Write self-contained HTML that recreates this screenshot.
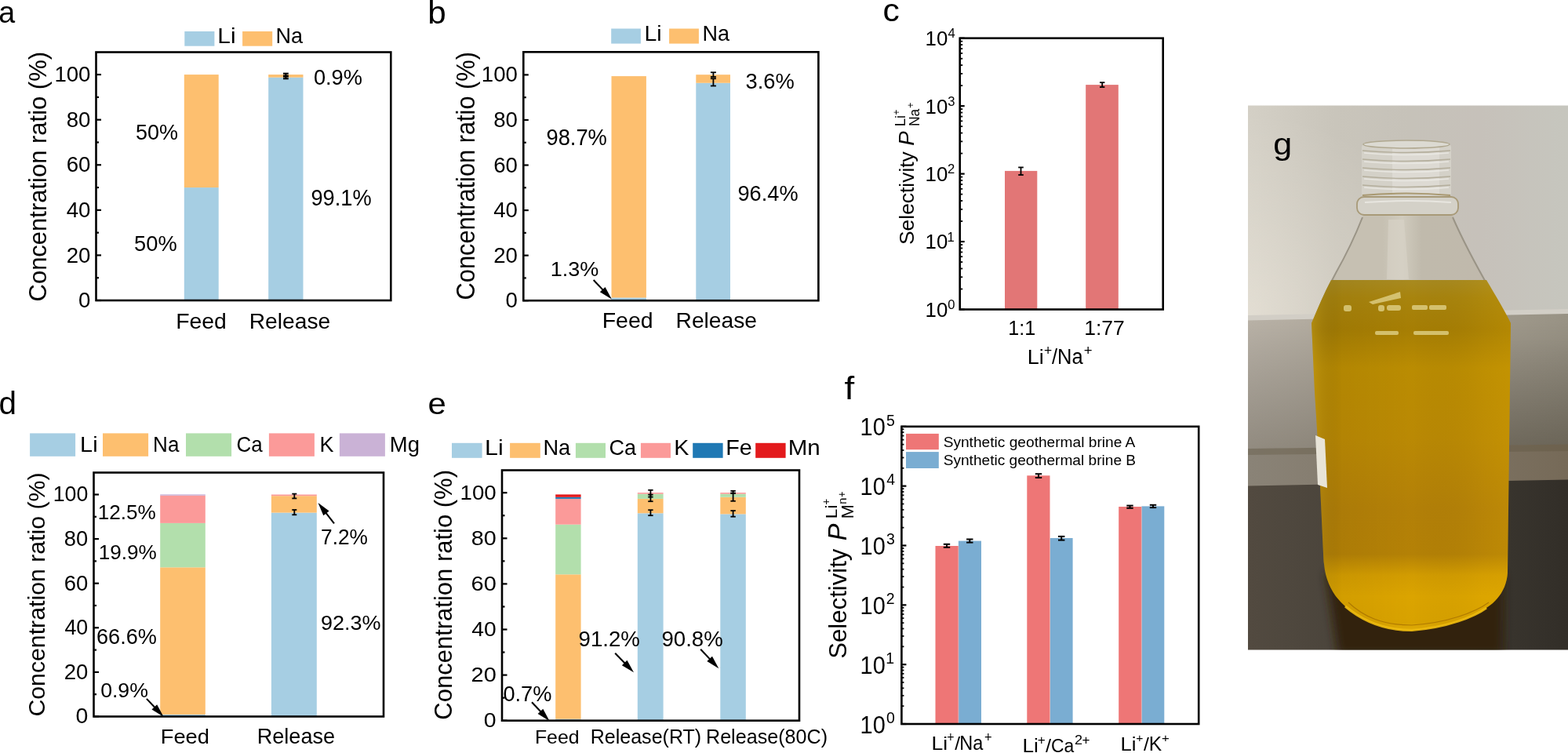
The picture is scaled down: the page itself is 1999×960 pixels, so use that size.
<!DOCTYPE html>
<html><head><meta charset="utf-8"><title>Figure</title>
<style>html,body{margin:0;padding:0;background:#fff;}svg{display:block;}
text{font-family:"Liberation Sans",Arial,sans-serif;}</style></head>
<body><svg width="1999" height="960" viewBox="0 0 1999 960">
<rect width="1999" height="960" fill="#fff"/>
<text transform="translate(-1.69 29.21) scale(0.9542 1)" font-size="39.45" fill="#000">a</text>
<text transform="translate(545.26 29.5) scale(1.0592 1)" font-size="39.86" fill="#000">b</text>
<text transform="translate(1125.38 27.3) scale(1.0688 1)" font-size="39.82" fill="#000">c</text>
<text transform="translate(-1.62 528.1) scale(1.0111 1)" font-size="40.00" fill="#000">d</text>
<text transform="translate(545.41 528.11) scale(1.0678 1)" font-size="39.27" fill="#000">e</text>
<text transform="translate(1076.42 508.8) scale(1.1455 1)" font-size="39.86" fill="#000">f</text>
<rect x="234.8" y="239.05" width="43.9" height="143.95" fill="#A6CEE3" />
<rect x="234.8" y="95.1" width="43.9" height="143.95" fill="#FDBF6F" />
<rect x="342.2" y="98.7" width="44.3" height="284.3" fill="#A6CEE3" />
<rect x="342.2" y="95.1" width="44.3" height="3.6" fill="#FDBF6F" />
<line x1="364.4" y1="93.7" x2="364.4" y2="97.6" stroke="#000" stroke-width="2" stroke-linecap="butt"/>
<line x1="361" y1="93.7" x2="367.8" y2="93.7" stroke="#000" stroke-width="2" stroke-linecap="butt"/>
<line x1="361" y1="97.6" x2="367.8" y2="97.6" stroke="#000" stroke-width="2" stroke-linecap="butt"/>
<line x1="364.4" y1="96.6" x2="364.4" y2="100.3" stroke="#000" stroke-width="2" stroke-linecap="butt"/>
<line x1="361" y1="96.6" x2="367.8" y2="96.6" stroke="#000" stroke-width="2" stroke-linecap="butt"/>
<line x1="361" y1="100.3" x2="367.8" y2="100.3" stroke="#000" stroke-width="2" stroke-linecap="butt"/>
<rect x="122.5" y="66.5" width="375.8" height="316.5" fill="none" stroke="#000" stroke-width="2.6"/>
<line x1="122.5" y1="383" x2="129" y2="383" stroke="#000" stroke-width="2.2" stroke-linecap="butt"/>
<line x1="122.5" y1="325.42" x2="129" y2="325.42" stroke="#000" stroke-width="2.2" stroke-linecap="butt"/>
<line x1="122.5" y1="267.84" x2="129" y2="267.84" stroke="#000" stroke-width="2.2" stroke-linecap="butt"/>
<line x1="122.5" y1="210.26" x2="129" y2="210.26" stroke="#000" stroke-width="2.2" stroke-linecap="butt"/>
<line x1="122.5" y1="152.68" x2="129" y2="152.68" stroke="#000" stroke-width="2.2" stroke-linecap="butt"/>
<line x1="122.5" y1="95.1" x2="129" y2="95.1" stroke="#000" stroke-width="2.2" stroke-linecap="butt"/>
<line x1="122.5" y1="354.21" x2="126" y2="354.21" stroke="#000" stroke-width="2.2" stroke-linecap="butt"/>
<line x1="122.5" y1="296.63" x2="126" y2="296.63" stroke="#000" stroke-width="2.2" stroke-linecap="butt"/>
<line x1="122.5" y1="239.05" x2="126" y2="239.05" stroke="#000" stroke-width="2.2" stroke-linecap="butt"/>
<line x1="122.5" y1="181.47" x2="126" y2="181.47" stroke="#000" stroke-width="2.2" stroke-linecap="butt"/>
<line x1="122.5" y1="123.89" x2="126" y2="123.89" stroke="#000" stroke-width="2.2" stroke-linecap="butt"/>
<text x="100.04" y="392.1" font-size="27.60">0</text>
<text x="84.72" y="334.52" font-size="27.60">20</text>
<text x="84.72" y="276.94" font-size="27.60">40</text>
<text x="84.72" y="219.36" font-size="27.60">60</text>
<text x="84.72" y="161.78" font-size="27.60">80</text>
<text x="69.4" y="104.2" font-size="27.60">100</text>
<text transform="translate(59.36 384.45) rotate(-90) scale(0.9656 1)" font-size="32.09">Concentration ratio (%)</text>
<text transform="translate(224.13 419.03) scale(1.0590 1)" font-size="26.80" fill="#000">Feed</text>
<text transform="translate(317.74 419.03) scale(1.0525 1)" font-size="26.80" fill="#000">Release</text>
<text transform="translate(173.02 178.22) scale(0.9524 1)" font-size="28.31" fill="#000">50%</text>
<text transform="translate(171.11 320.32) scale(0.9829 1)" font-size="27.75" fill="#000">50%</text>
<text transform="translate(396.47 262.21) scale(0.9521 1)" font-size="28.59" fill="#000">99.1%</text>
<text transform="translate(399.91 108.22) scale(0.9564 1)" font-size="28.45" fill="#000">0.9%</text>
<rect x="235.3" y="40" width="38.1" height="18.7" fill="#A6CEE3" />
<rect x="309.1" y="40" width="38.1" height="18.7" fill="#FDBF6F" />
<text transform="translate(277.31 55.1) scale(1.0927 1)" font-size="27.31" fill="#000">Li</text>
<text transform="translate(351.54 55.01) scale(0.9460 1)" font-size="28.57" fill="#000">Na</text>
<rect x="779.5" y="379.46" width="44.4" height="3.74" fill="#A6CEE3" />
<rect x="779.5" y="97.1" width="44.4" height="282.36" fill="#FDBF6F" />
<rect x="887.3" y="105.76" width="43.7" height="277.44" fill="#A6CEE3" />
<rect x="887.3" y="95.2" width="43.7" height="10.56" fill="#FDBF6F" />
<line x1="909.4" y1="92.3" x2="909.4" y2="98" stroke="#000" stroke-width="1.8" stroke-linecap="butt"/>
<line x1="905.9" y1="92.3" x2="912.9" y2="92.3" stroke="#000" stroke-width="1.8" stroke-linecap="butt"/>
<line x1="905.9" y1="98" x2="912.9" y2="98" stroke="#000" stroke-width="1.8" stroke-linecap="butt"/>
<line x1="909.4" y1="100.2" x2="909.4" y2="109.5" stroke="#000" stroke-width="1.8" stroke-linecap="butt"/>
<line x1="905.9" y1="100.2" x2="912.9" y2="100.2" stroke="#000" stroke-width="1.8" stroke-linecap="butt"/>
<line x1="905.9" y1="109.5" x2="912.9" y2="109.5" stroke="#000" stroke-width="1.8" stroke-linecap="butt"/>
<rect x="667.3" y="66.3" width="376.1" height="316.9" fill="none" stroke="#000" stroke-width="2.6"/>
<line x1="667.3" y1="383.2" x2="673.8" y2="383.2" stroke="#000" stroke-width="2.2" stroke-linecap="butt"/>
<line x1="667.3" y1="325.64" x2="673.8" y2="325.64" stroke="#000" stroke-width="2.2" stroke-linecap="butt"/>
<line x1="667.3" y1="268.08" x2="673.8" y2="268.08" stroke="#000" stroke-width="2.2" stroke-linecap="butt"/>
<line x1="667.3" y1="210.52" x2="673.8" y2="210.52" stroke="#000" stroke-width="2.2" stroke-linecap="butt"/>
<line x1="667.3" y1="152.96" x2="673.8" y2="152.96" stroke="#000" stroke-width="2.2" stroke-linecap="butt"/>
<line x1="667.3" y1="95.4" x2="673.8" y2="95.4" stroke="#000" stroke-width="2.2" stroke-linecap="butt"/>
<line x1="667.3" y1="354.42" x2="670.8" y2="354.42" stroke="#000" stroke-width="2.2" stroke-linecap="butt"/>
<line x1="667.3" y1="296.86" x2="670.8" y2="296.86" stroke="#000" stroke-width="2.2" stroke-linecap="butt"/>
<line x1="667.3" y1="239.3" x2="670.8" y2="239.3" stroke="#000" stroke-width="2.2" stroke-linecap="butt"/>
<line x1="667.3" y1="181.74" x2="670.8" y2="181.74" stroke="#000" stroke-width="2.2" stroke-linecap="butt"/>
<line x1="667.3" y1="124.18" x2="670.8" y2="124.18" stroke="#000" stroke-width="2.2" stroke-linecap="butt"/>
<text x="644.49" y="392.2" font-size="27.60">0</text>
<text x="629.17" y="334.64" font-size="27.60">20</text>
<text x="629.17" y="277.08" font-size="27.60">40</text>
<text x="629.17" y="219.52" font-size="27.60">60</text>
<text x="629.17" y="161.96" font-size="27.60">80</text>
<text x="613.85" y="104.4" font-size="27.60">100</text>
<text transform="translate(604.6 382.44) rotate(-90) scale(0.9376 1)" font-size="32.83">Concentration ratio (%)</text>
<text transform="translate(767.72 417.73) scale(1.0466 1)" font-size="27.21" fill="#000">Feed</text>
<text transform="translate(861.54 417.73) scale(1.0367 1)" font-size="27.21" fill="#000">Release</text>
<text transform="translate(696.47 184.61) scale(0.9513 1)" font-size="28.73" fill="#000">98.7%</text>
<text transform="translate(940.48 255.52) scale(0.9700 1)" font-size="28.03" fill="#000">96.4%</text>
<text transform="translate(950.51 112.63) scale(0.9992 1)" font-size="27.32" fill="#000">3.6%</text>
<text transform="translate(701.77 352.24) scale(1.0271 1)" font-size="26.34" fill="#000">1.3%</text>
<line x1="756.7" y1="357" x2="769.59" y2="370.61" stroke="#000" stroke-width="2.1" stroke-linecap="butt"/>
<polygon points="779.9,381.5 764.87,372.32 771.55,365.99" fill="#000"/>
<rect x="779.2" y="36.5" width="37.7" height="19.1" fill="#A6CEE3" />
<rect x="853.1" y="36.5" width="37.8" height="19.1" fill="#FDBF6F" />
<text transform="translate(821.43 52) scale(1.0300 1)" font-size="27.59" fill="#000">Li</text>
<text transform="translate(895.54 51.91) scale(0.9460 1)" font-size="28.57" fill="#000">Na</text>
<rect x="1281" y="217.9" width="41.3" height="176.6" fill="#E27676" />
<rect x="1384.2" y="108.1" width="41.6" height="286.4" fill="#E27676" />
<line x1="1301.5" y1="213.4" x2="1301.5" y2="223" stroke="#000" stroke-width="1.8" stroke-linecap="butt"/>
<line x1="1298.2" y1="213.4" x2="1304.8" y2="213.4" stroke="#000" stroke-width="1.8" stroke-linecap="butt"/>
<line x1="1298.2" y1="223" x2="1304.8" y2="223" stroke="#000" stroke-width="1.8" stroke-linecap="butt"/>
<line x1="1405.2" y1="105.2" x2="1405.2" y2="111" stroke="#000" stroke-width="1.8" stroke-linecap="butt"/>
<line x1="1402" y1="105.2" x2="1408.4" y2="105.2" stroke="#000" stroke-width="1.8" stroke-linecap="butt"/>
<line x1="1402" y1="111" x2="1408.4" y2="111" stroke="#000" stroke-width="1.8" stroke-linecap="butt"/>
<rect x="1223.7" y="48.7" width="259" height="345.8" fill="none" stroke="#000" stroke-width="2.6"/>
<line x1="1223.7" y1="394.5" x2="1229.7" y2="394.5" stroke="#000" stroke-width="2.2" stroke-linecap="butt"/>
<line x1="1223.7" y1="368.48" x2="1227.2" y2="368.48" stroke="#000" stroke-width="1.8" stroke-linecap="butt"/>
<line x1="1223.7" y1="353.25" x2="1227.2" y2="353.25" stroke="#000" stroke-width="1.8" stroke-linecap="butt"/>
<line x1="1223.7" y1="342.45" x2="1227.2" y2="342.45" stroke="#000" stroke-width="1.8" stroke-linecap="butt"/>
<line x1="1223.7" y1="334.07" x2="1227.2" y2="334.07" stroke="#000" stroke-width="1.8" stroke-linecap="butt"/>
<line x1="1223.7" y1="327.23" x2="1227.2" y2="327.23" stroke="#000" stroke-width="1.8" stroke-linecap="butt"/>
<line x1="1223.7" y1="321.44" x2="1227.2" y2="321.44" stroke="#000" stroke-width="1.8" stroke-linecap="butt"/>
<line x1="1223.7" y1="316.43" x2="1227.2" y2="316.43" stroke="#000" stroke-width="1.8" stroke-linecap="butt"/>
<line x1="1223.7" y1="312.01" x2="1227.2" y2="312.01" stroke="#000" stroke-width="1.8" stroke-linecap="butt"/>
<line x1="1223.7" y1="308.05" x2="1229.7" y2="308.05" stroke="#000" stroke-width="2.2" stroke-linecap="butt"/>
<line x1="1223.7" y1="282.03" x2="1227.2" y2="282.03" stroke="#000" stroke-width="1.8" stroke-linecap="butt"/>
<line x1="1223.7" y1="266.8" x2="1227.2" y2="266.8" stroke="#000" stroke-width="1.8" stroke-linecap="butt"/>
<line x1="1223.7" y1="256" x2="1227.2" y2="256" stroke="#000" stroke-width="1.8" stroke-linecap="butt"/>
<line x1="1223.7" y1="247.62" x2="1227.2" y2="247.62" stroke="#000" stroke-width="1.8" stroke-linecap="butt"/>
<line x1="1223.7" y1="240.78" x2="1227.2" y2="240.78" stroke="#000" stroke-width="1.8" stroke-linecap="butt"/>
<line x1="1223.7" y1="234.99" x2="1227.2" y2="234.99" stroke="#000" stroke-width="1.8" stroke-linecap="butt"/>
<line x1="1223.7" y1="229.98" x2="1227.2" y2="229.98" stroke="#000" stroke-width="1.8" stroke-linecap="butt"/>
<line x1="1223.7" y1="225.56" x2="1227.2" y2="225.56" stroke="#000" stroke-width="1.8" stroke-linecap="butt"/>
<line x1="1223.7" y1="221.6" x2="1229.7" y2="221.6" stroke="#000" stroke-width="2.2" stroke-linecap="butt"/>
<line x1="1223.7" y1="195.58" x2="1227.2" y2="195.58" stroke="#000" stroke-width="1.8" stroke-linecap="butt"/>
<line x1="1223.7" y1="180.35" x2="1227.2" y2="180.35" stroke="#000" stroke-width="1.8" stroke-linecap="butt"/>
<line x1="1223.7" y1="169.55" x2="1227.2" y2="169.55" stroke="#000" stroke-width="1.8" stroke-linecap="butt"/>
<line x1="1223.7" y1="161.17" x2="1227.2" y2="161.17" stroke="#000" stroke-width="1.8" stroke-linecap="butt"/>
<line x1="1223.7" y1="154.33" x2="1227.2" y2="154.33" stroke="#000" stroke-width="1.8" stroke-linecap="butt"/>
<line x1="1223.7" y1="148.54" x2="1227.2" y2="148.54" stroke="#000" stroke-width="1.8" stroke-linecap="butt"/>
<line x1="1223.7" y1="143.53" x2="1227.2" y2="143.53" stroke="#000" stroke-width="1.8" stroke-linecap="butt"/>
<line x1="1223.7" y1="139.11" x2="1227.2" y2="139.11" stroke="#000" stroke-width="1.8" stroke-linecap="butt"/>
<line x1="1223.7" y1="135.15" x2="1229.7" y2="135.15" stroke="#000" stroke-width="2.2" stroke-linecap="butt"/>
<line x1="1223.7" y1="109.13" x2="1227.2" y2="109.13" stroke="#000" stroke-width="1.8" stroke-linecap="butt"/>
<line x1="1223.7" y1="93.9" x2="1227.2" y2="93.9" stroke="#000" stroke-width="1.8" stroke-linecap="butt"/>
<line x1="1223.7" y1="83.1" x2="1227.2" y2="83.1" stroke="#000" stroke-width="1.8" stroke-linecap="butt"/>
<line x1="1223.7" y1="74.72" x2="1227.2" y2="74.72" stroke="#000" stroke-width="1.8" stroke-linecap="butt"/>
<line x1="1223.7" y1="67.88" x2="1227.2" y2="67.88" stroke="#000" stroke-width="1.8" stroke-linecap="butt"/>
<line x1="1223.7" y1="62.09" x2="1227.2" y2="62.09" stroke="#000" stroke-width="1.8" stroke-linecap="butt"/>
<line x1="1223.7" y1="57.08" x2="1227.2" y2="57.08" stroke="#000" stroke-width="1.8" stroke-linecap="butt"/>
<line x1="1223.7" y1="52.66" x2="1227.2" y2="52.66" stroke="#000" stroke-width="1.8" stroke-linecap="butt"/>
<line x1="1223.7" y1="48.7" x2="1229.7" y2="48.7" stroke="#000" stroke-width="2.2" stroke-linecap="butt"/>
<text transform="translate(1179.56 403.94) scale(1.0021 1)" font-size="25.77" fill="#000">10</text>
<text x="1208.14" y="394.2" font-size="16.60">0</text>
<text transform="translate(1179.56 317.49) scale(1.0021 1)" font-size="25.77" fill="#000">10</text>
<text x="1207.56" y="307.75" font-size="16.60">1</text>
<text transform="translate(1179.56 231.04) scale(1.0021 1)" font-size="25.77" fill="#000">10</text>
<text x="1207.97" y="221.3" font-size="16.60">2</text>
<text transform="translate(1179.56 144.59) scale(1.0021 1)" font-size="25.77" fill="#000">10</text>
<text x="1208.14" y="134.85" font-size="16.60">3</text>
<text transform="translate(1179.56 58.14) scale(1.0021 1)" font-size="25.77" fill="#000">10</text>
<text x="1208.38" y="48.4" font-size="16.60">4</text>
<text transform="translate(1164.56 311.99) rotate(-90) scale(1.0202 1)" font-size="25.88">Selectivity</text>
<text transform="translate(1165 185.83) rotate(-90) scale(1.0250 1)" font-size="27.10" font-style="italic">P</text>
<text transform="translate(1153.75 161.17) rotate(-90) scale(1.0553 1)" font-size="17.45">Li</text>
<text transform="translate(1146.98 146.48) rotate(-90) scale(0.9589 1)" font-size="12.04">+</text>
<text transform="translate(1172.01 161.1) rotate(-90) scale(0.9368 1)" font-size="18.71">Na</text>
<text transform="translate(1164.84 137.81) rotate(-90) scale(1.0103 1)" font-size="12.14">+</text>
<text transform="translate(1285.31 427.2) scale(0.9690 1)" font-size="25.94" fill="#000">1:1</text>
<text transform="translate(1382.21 427.2) scale(1.0230 1)" font-size="25.94" fill="#000">1:77</text>
<text transform="translate(1309.84 463.9) scale(1.0351 1)" font-size="26.07" fill="#000">Li</text>
<text transform="translate(1331.12 452.6) scale(0.9871 1)" font-size="17.76" fill="#000">+</text>
<text transform="translate(1341 464.03) scale(0.9449 1)" font-size="26.94" fill="#000">/</text>
<text transform="translate(1347.96 463.93) scale(0.9305 1)" font-size="27.43" fill="#000">Na</text>
<text transform="translate(1381.87 452.6) scale(1.0451 1)" font-size="17.76" fill="#000">+</text>
<rect x="204.2" y="910.95" width="57.6" height="2.55" fill="#A6CEE3" />
<rect x="204.2" y="723.3" width="57.6" height="187.65" fill="#FDBF6F" />
<rect x="204.2" y="666.9" width="57.6" height="56.4" fill="#B2DFAC" />
<rect x="204.2" y="631.8" width="57.6" height="35.1" fill="#FB9A99" />
<rect x="204.2" y="630.3" width="57.6" height="1.5" fill="#CAB2D6" />
<rect x="345.9" y="653.6" width="57.9" height="259.9" fill="#A6CEE3" />
<rect x="345.9" y="632.2" width="57.9" height="21.4" fill="#FDBF6F" />
<rect x="345.9" y="630.5" width="57.9" height="1.7" fill="#FB9A99" />
<line x1="375.3" y1="629.6" x2="375.3" y2="635.4" stroke="#000" stroke-width="1.8" stroke-linecap="butt"/>
<line x1="372.3" y1="629.6" x2="378.3" y2="629.6" stroke="#000" stroke-width="1.8" stroke-linecap="butt"/>
<line x1="372.3" y1="635.4" x2="378.3" y2="635.4" stroke="#000" stroke-width="1.8" stroke-linecap="butt"/>
<line x1="375.3" y1="650" x2="375.3" y2="656.3" stroke="#000" stroke-width="1.8" stroke-linecap="butt"/>
<line x1="372.3" y1="650" x2="378.3" y2="650" stroke="#000" stroke-width="1.8" stroke-linecap="butt"/>
<line x1="372.3" y1="656.3" x2="378.3" y2="656.3" stroke="#000" stroke-width="1.8" stroke-linecap="butt"/>
<rect x="119.5" y="602.5" width="369.5" height="311" fill="none" stroke="#000" stroke-width="2.6"/>
<line x1="119.5" y1="913.5" x2="126" y2="913.5" stroke="#000" stroke-width="2.2" stroke-linecap="butt"/>
<line x1="119.5" y1="856.9" x2="126" y2="856.9" stroke="#000" stroke-width="2.2" stroke-linecap="butt"/>
<line x1="119.5" y1="800.3" x2="126" y2="800.3" stroke="#000" stroke-width="2.2" stroke-linecap="butt"/>
<line x1="119.5" y1="743.7" x2="126" y2="743.7" stroke="#000" stroke-width="2.2" stroke-linecap="butt"/>
<line x1="119.5" y1="687.1" x2="126" y2="687.1" stroke="#000" stroke-width="2.2" stroke-linecap="butt"/>
<line x1="119.5" y1="630.5" x2="126" y2="630.5" stroke="#000" stroke-width="2.2" stroke-linecap="butt"/>
<line x1="119.5" y1="885.2" x2="123" y2="885.2" stroke="#000" stroke-width="2.2" stroke-linecap="butt"/>
<line x1="119.5" y1="828.6" x2="123" y2="828.6" stroke="#000" stroke-width="2.2" stroke-linecap="butt"/>
<line x1="119.5" y1="772" x2="123" y2="772" stroke="#000" stroke-width="2.2" stroke-linecap="butt"/>
<line x1="119.5" y1="715.4" x2="123" y2="715.4" stroke="#000" stroke-width="2.2" stroke-linecap="butt"/>
<line x1="119.5" y1="658.8" x2="123" y2="658.8" stroke="#000" stroke-width="2.2" stroke-linecap="butt"/>
<text transform="translate(96.46 922.33) scale(1.0510 1)" font-size="27.04" fill="#000">0</text>
<text transform="translate(81.73 865.73) scale(1.0151 1)" font-size="27.04" fill="#000">20</text>
<text transform="translate(82.43 809.13) scale(0.9908 1)" font-size="27.04" fill="#000">40</text>
<text transform="translate(81.73 752.53) scale(1.0151 1)" font-size="27.04" fill="#000">60</text>
<text transform="translate(81.87 695.93) scale(1.0102 1)" font-size="27.04" fill="#000">80</text>
<text transform="translate(67.7 639.33) scale(0.9877 1)" font-size="27.04" fill="#000">100</text>
<text transform="translate(56.97 913.61) rotate(-90) scale(1.0038 1)" font-size="30.16">Concentration ratio (%)</text>
<text transform="translate(204.82 947.53) scale(1.0222 1)" font-size="26.67" fill="#000">Feed</text>
<text transform="translate(327.73 947.63) scale(1.0002 1)" font-size="27.07" fill="#000">Release</text>
<text transform="translate(124.64 662.14) scale(1.0028 1)" font-size="26.06" fill="#000">12.5%</text>
<text transform="translate(125.64 712.83) scale(0.9815 1)" font-size="26.62" fill="#000">19.9%</text>
<text transform="translate(123.05 820.93) scale(1.0018 1)" font-size="27.04" fill="#000">66.6%</text>
<text transform="translate(128.13 888.64) scale(1.0234 1)" font-size="26.06" fill="#000">0.9%</text>
<text transform="translate(408.98 802.95) scale(1.0652 1)" font-size="25.35" fill="#000">92.3%</text>
<text transform="translate(409.09 693.87) scale(0.9788 1)" font-size="26.81" fill="#000">7.2%</text>
<line x1="186.9" y1="890.9" x2="198.18" y2="902.81" stroke="#000" stroke-width="2.1" stroke-linecap="butt"/>
<polygon points="208.5,913.7 193.47,904.52 200.15,898.2" fill="#000"/>
<line x1="426" y1="667.3" x2="414.72" y2="652.83" stroke="#000" stroke-width="2.1" stroke-linecap="butt"/>
<polygon points="405.5,641 419.58,651.58 412.32,657.24" fill="#000"/>
<rect x="38.1" y="552.4" width="58" height="29.4" fill="#A6CEE3" />
<rect x="131" y="552.4" width="58.1" height="29.4" fill="#FDBF6F" />
<rect x="237" y="552.4" width="58.1" height="29.4" fill="#B2DFAC" />
<rect x="342.9" y="552.4" width="58" height="29.4" fill="#FB9A99" />
<rect x="432.9" y="552.4" width="58" height="29.4" fill="#CAB2D6" />
<text transform="translate(102.09 576.3) scale(1.0741 1)" font-size="26.90" fill="#000">Li</text>
<text transform="translate(195.12 576.12) scale(0.9439 1)" font-size="27.57" fill="#000">Na</text>
<text transform="translate(301.6 576.13) scale(0.9550 1)" font-size="27.18" fill="#000">Ca</text>
<text transform="translate(407.44 576.4) scale(0.9637 1)" font-size="27.97" fill="#000">K</text>
<text transform="translate(496.8 575.88) scale(1.0091 1)" font-size="27.22" fill="#000">Mg</text>
<rect x="708.2" y="916.67" width="32.4" height="2.03" fill="#A6CEE3" />
<rect x="708.2" y="732.3" width="32.4" height="184.37" fill="#FDBF6F" />
<rect x="708.2" y="668.7" width="32.4" height="63.6" fill="#B2DFAC" />
<rect x="708.2" y="635.9" width="32.4" height="32.8" fill="#FB9A99" />
<rect x="708.2" y="633.8" width="32.4" height="2.1" fill="#1F78B4" />
<rect x="708.2" y="630.4" width="32.4" height="3.4" fill="#E31A1C" />
<rect x="812.8" y="654.3" width="32.8" height="264.4" fill="#A6CEE3" />
<rect x="812.8" y="635.9" width="32.8" height="18.4" fill="#FDBF6F" />
<rect x="812.8" y="629.7" width="32.8" height="6.2" fill="#B2DFAC" />
<rect x="812.8" y="628.1" width="32.8" height="1.6" fill="#FB9A99" />
<line x1="829.4" y1="624.8" x2="829.4" y2="633.6" stroke="#000" stroke-width="1.8" stroke-linecap="butt"/>
<line x1="826.2" y1="624.8" x2="832.6" y2="624.8" stroke="#000" stroke-width="1.8" stroke-linecap="butt"/>
<line x1="826.2" y1="633.6" x2="832.6" y2="633.6" stroke="#000" stroke-width="1.8" stroke-linecap="butt"/>
<line x1="829.4" y1="630.6" x2="829.4" y2="639.2" stroke="#000" stroke-width="1.8" stroke-linecap="butt"/>
<line x1="826.2" y1="630.6" x2="832.6" y2="630.6" stroke="#000" stroke-width="1.8" stroke-linecap="butt"/>
<line x1="826.2" y1="639.2" x2="832.6" y2="639.2" stroke="#000" stroke-width="1.8" stroke-linecap="butt"/>
<line x1="829.4" y1="650.2" x2="829.4" y2="657.2" stroke="#000" stroke-width="1.8" stroke-linecap="butt"/>
<line x1="826.2" y1="650.2" x2="832.6" y2="650.2" stroke="#000" stroke-width="1.8" stroke-linecap="butt"/>
<line x1="826.2" y1="657.2" x2="832.6" y2="657.2" stroke="#000" stroke-width="1.8" stroke-linecap="butt"/>
<rect x="918.3" y="655.4" width="32.5" height="263.3" fill="#A6CEE3" />
<rect x="918.3" y="633.8" width="32.5" height="21.6" fill="#FDBF6F" />
<rect x="918.3" y="629.7" width="32.5" height="4.1" fill="#B2DFAC" />
<rect x="918.3" y="628.1" width="32.5" height="1.6" fill="#FB9A99" />
<line x1="934.6" y1="625.8" x2="934.6" y2="628.6" stroke="#000" stroke-width="1.8" stroke-linecap="butt"/>
<line x1="931.4" y1="625.8" x2="937.8" y2="625.8" stroke="#000" stroke-width="1.8" stroke-linecap="butt"/>
<line x1="931.4" y1="628.6" x2="937.8" y2="628.6" stroke="#000" stroke-width="1.8" stroke-linecap="butt"/>
<line x1="934.6" y1="628.8" x2="934.6" y2="638.8" stroke="#000" stroke-width="1.8" stroke-linecap="butt"/>
<line x1="931.4" y1="628.8" x2="937.8" y2="628.8" stroke="#000" stroke-width="1.8" stroke-linecap="butt"/>
<line x1="931.4" y1="638.8" x2="937.8" y2="638.8" stroke="#000" stroke-width="1.8" stroke-linecap="butt"/>
<line x1="934.6" y1="651.1" x2="934.6" y2="658.7" stroke="#000" stroke-width="1.8" stroke-linecap="butt"/>
<line x1="931.4" y1="651.1" x2="937.8" y2="651.1" stroke="#000" stroke-width="1.8" stroke-linecap="butt"/>
<line x1="931.4" y1="658.7" x2="937.8" y2="658.7" stroke="#000" stroke-width="1.8" stroke-linecap="butt"/>
<rect x="640" y="599.5" width="379" height="319.2" fill="none" stroke="#000" stroke-width="2.6"/>
<line x1="640" y1="918.7" x2="646.5" y2="918.7" stroke="#000" stroke-width="2.2" stroke-linecap="butt"/>
<line x1="640" y1="860.6" x2="646.5" y2="860.6" stroke="#000" stroke-width="2.2" stroke-linecap="butt"/>
<line x1="640" y1="802.5" x2="646.5" y2="802.5" stroke="#000" stroke-width="2.2" stroke-linecap="butt"/>
<line x1="640" y1="744.4" x2="646.5" y2="744.4" stroke="#000" stroke-width="2.2" stroke-linecap="butt"/>
<line x1="640" y1="686.3" x2="646.5" y2="686.3" stroke="#000" stroke-width="2.2" stroke-linecap="butt"/>
<line x1="640" y1="628.2" x2="646.5" y2="628.2" stroke="#000" stroke-width="2.2" stroke-linecap="butt"/>
<line x1="640" y1="889.65" x2="643.5" y2="889.65" stroke="#000" stroke-width="2.2" stroke-linecap="butt"/>
<line x1="640" y1="831.55" x2="643.5" y2="831.55" stroke="#000" stroke-width="2.2" stroke-linecap="butt"/>
<line x1="640" y1="773.45" x2="643.5" y2="773.45" stroke="#000" stroke-width="2.2" stroke-linecap="butt"/>
<line x1="640" y1="715.35" x2="643.5" y2="715.35" stroke="#000" stroke-width="2.2" stroke-linecap="butt"/>
<line x1="640" y1="657.25" x2="643.5" y2="657.25" stroke="#000" stroke-width="2.2" stroke-linecap="butt"/>
<text transform="translate(616.86 927.03) scale(1.0677 1)" font-size="26.62" fill="#000">0</text>
<text transform="translate(600.55 868.93) scale(1.0865 1)" font-size="26.62" fill="#000">20</text>
<text transform="translate(601.29 810.83) scale(1.0605 1)" font-size="26.62" fill="#000">40</text>
<text transform="translate(600.55 752.73) scale(1.0865 1)" font-size="26.62" fill="#000">60</text>
<text transform="translate(600.7 694.63) scale(1.0812 1)" font-size="26.62" fill="#000">80</text>
<text transform="translate(586.52 636.53) scale(1.0397 1)" font-size="26.62" fill="#000">100</text>
<text transform="translate(576.18 917.65) rotate(-90) scale(0.9692 1)" font-size="31.98">Concentration ratio (%)</text>
<text transform="translate(681.91 947.66) scale(1.0212 1)" font-size="24.35" fill="#000">Feed</text>
<text transform="translate(752.69 948.09) scale(0.9911 1)" font-size="25.29" fill="#000">Release(RT)</text>
<text transform="translate(899.99 947.94) scale(1.0047 1)" font-size="25.03" fill="#000">Release(80C)</text>
<text transform="translate(641.41 893.72) scale(0.9857 1)" font-size="27.61" fill="#000">0.7%</text>
<text transform="translate(737.56 823.82) scale(0.9993 1)" font-size="27.61" fill="#000">91.2%</text>
<text transform="translate(843.46 823.82) scale(0.9993 1)" font-size="27.61" fill="#000">90.8%</text>
<line x1="678" y1="895.2" x2="690.32" y2="908.28" stroke="#000" stroke-width="2.1" stroke-linecap="butt"/>
<polygon points="700.6,919.2 685.6,909.98 692.29,903.67" fill="#000"/>
<line x1="784.2" y1="832.7" x2="797.55" y2="846.44" stroke="#000" stroke-width="2.1" stroke-linecap="butt"/>
<polygon points="808,857.2 792.86,848.21 799.45,841.8" fill="#000"/>
<line x1="893.2" y1="827.8" x2="906.01" y2="841.39" stroke="#000" stroke-width="2.1" stroke-linecap="butt"/>
<polygon points="916.3,852.3 901.29,843.09 907.98,836.78" fill="#000"/>
<rect x="576" y="564.8" width="38.6" height="19" fill="#A6CEE3" />
<rect x="650.1" y="564.8" width="38.7" height="19" fill="#FDBF6F" />
<rect x="733.9" y="564.8" width="38.1" height="19" fill="#B2DFAC" />
<rect x="816.9" y="564.8" width="38.1" height="19" fill="#FB9A99" />
<rect x="883.2" y="564.8" width="38.4" height="19" fill="#1F78B4" />
<rect x="963.2" y="564.8" width="38.4" height="19" fill="#E31A1C" />
<text transform="translate(618.07 580.1) scale(1.1045 1)" font-size="27.45" fill="#000">Li</text>
<text transform="translate(692.42 579.82) scale(0.9763 1)" font-size="27.86" fill="#000">Na</text>
<text transform="translate(776.55 580.12) scale(0.9497 1)" font-size="28.45" fill="#000">Ca</text>
<text transform="translate(859.2 580.1) scale(1.0154 1)" font-size="28.26" fill="#000">K</text>
<text transform="translate(925.2 580.12) scale(1.0164 1)" font-size="28.29" fill="#000">Fe</text>
<text transform="translate(1004.74 580.1) scale(1.0459 1)" font-size="28.26" fill="#000">Mn</text>
<rect x="1192.5" y="696" width="29.4" height="227" fill="#EE7676" />
<rect x="1221.9" y="689.6" width="29.1" height="233.4" fill="#7AADD2" />
<rect x="1309.3" y="606.3" width="29.2" height="316.7" fill="#EE7676" />
<rect x="1338.5" y="686" width="29.1" height="237" fill="#7AADD2" />
<rect x="1426.2" y="646" width="29.1" height="277" fill="#EE7676" />
<rect x="1455.3" y="645.4" width="29" height="277.6" fill="#7AADD2" />
<line x1="1221.9" y1="696" x2="1221.9" y2="923" stroke="#F6B0AC" stroke-width="0.7" stroke-linecap="butt"/>
<line x1="1338.5" y1="686" x2="1338.5" y2="923" stroke="#F6B0AC" stroke-width="0.7" stroke-linecap="butt"/>
<line x1="1455.3" y1="646" x2="1455.3" y2="923" stroke="#F6B0AC" stroke-width="0.7" stroke-linecap="butt"/>
<line x1="1207" y1="693.8" x2="1207" y2="697.8" stroke="#000" stroke-width="2" stroke-linecap="butt"/>
<line x1="1202.8" y1="693.8" x2="1211.2" y2="693.8" stroke="#000" stroke-width="2" stroke-linecap="butt"/>
<line x1="1202.8" y1="697.8" x2="1211.2" y2="697.8" stroke="#000" stroke-width="2" stroke-linecap="butt"/>
<line x1="1236.3" y1="687.5" x2="1236.3" y2="691.6" stroke="#000" stroke-width="2" stroke-linecap="butt"/>
<line x1="1232.1" y1="687.5" x2="1240.5" y2="687.5" stroke="#000" stroke-width="2" stroke-linecap="butt"/>
<line x1="1232.1" y1="691.6" x2="1240.5" y2="691.6" stroke="#000" stroke-width="2" stroke-linecap="butt"/>
<line x1="1324" y1="604.2" x2="1324" y2="609" stroke="#000" stroke-width="2" stroke-linecap="butt"/>
<line x1="1319.8" y1="604.2" x2="1328.2" y2="604.2" stroke="#000" stroke-width="2" stroke-linecap="butt"/>
<line x1="1319.8" y1="609" x2="1328.2" y2="609" stroke="#000" stroke-width="2" stroke-linecap="butt"/>
<line x1="1353.2" y1="683.9" x2="1353.2" y2="688.6" stroke="#000" stroke-width="2" stroke-linecap="butt"/>
<line x1="1349" y1="683.9" x2="1357.4" y2="683.9" stroke="#000" stroke-width="2" stroke-linecap="butt"/>
<line x1="1349" y1="688.6" x2="1357.4" y2="688.6" stroke="#000" stroke-width="2" stroke-linecap="butt"/>
<line x1="1440.5" y1="644.6" x2="1440.5" y2="647.8" stroke="#000" stroke-width="2" stroke-linecap="butt"/>
<line x1="1436.3" y1="644.6" x2="1444.7" y2="644.6" stroke="#000" stroke-width="2" stroke-linecap="butt"/>
<line x1="1436.3" y1="647.8" x2="1444.7" y2="647.8" stroke="#000" stroke-width="2" stroke-linecap="butt"/>
<line x1="1470" y1="643.8" x2="1470" y2="647.1" stroke="#000" stroke-width="2" stroke-linecap="butt"/>
<line x1="1465.8" y1="643.8" x2="1474.2" y2="643.8" stroke="#000" stroke-width="2" stroke-linecap="butt"/>
<line x1="1465.8" y1="647.1" x2="1474.2" y2="647.1" stroke="#000" stroke-width="2" stroke-linecap="butt"/>
<rect x="1149.4" y="543.8" width="378.8" height="379.2" fill="none" stroke="#000" stroke-width="2.6"/>
<line x1="1149.4" y1="923" x2="1155.4" y2="923" stroke="#000" stroke-width="2.2" stroke-linecap="butt"/>
<line x1="1149.4" y1="900.17" x2="1152.4" y2="900.17" stroke="#000" stroke-width="1.8" stroke-linecap="butt"/>
<line x1="1149.4" y1="886.82" x2="1152.4" y2="886.82" stroke="#000" stroke-width="1.8" stroke-linecap="butt"/>
<line x1="1149.4" y1="877.34" x2="1152.4" y2="877.34" stroke="#000" stroke-width="1.8" stroke-linecap="butt"/>
<line x1="1149.4" y1="869.99" x2="1152.4" y2="869.99" stroke="#000" stroke-width="1.8" stroke-linecap="butt"/>
<line x1="1149.4" y1="863.99" x2="1152.4" y2="863.99" stroke="#000" stroke-width="1.8" stroke-linecap="butt"/>
<line x1="1149.4" y1="858.91" x2="1152.4" y2="858.91" stroke="#000" stroke-width="1.8" stroke-linecap="butt"/>
<line x1="1149.4" y1="854.51" x2="1152.4" y2="854.51" stroke="#000" stroke-width="1.8" stroke-linecap="butt"/>
<line x1="1149.4" y1="850.63" x2="1152.4" y2="850.63" stroke="#000" stroke-width="1.8" stroke-linecap="butt"/>
<line x1="1149.4" y1="847.16" x2="1155.4" y2="847.16" stroke="#000" stroke-width="2.2" stroke-linecap="butt"/>
<line x1="1149.4" y1="824.33" x2="1152.4" y2="824.33" stroke="#000" stroke-width="1.8" stroke-linecap="butt"/>
<line x1="1149.4" y1="810.98" x2="1152.4" y2="810.98" stroke="#000" stroke-width="1.8" stroke-linecap="butt"/>
<line x1="1149.4" y1="801.5" x2="1152.4" y2="801.5" stroke="#000" stroke-width="1.8" stroke-linecap="butt"/>
<line x1="1149.4" y1="794.15" x2="1152.4" y2="794.15" stroke="#000" stroke-width="1.8" stroke-linecap="butt"/>
<line x1="1149.4" y1="788.15" x2="1152.4" y2="788.15" stroke="#000" stroke-width="1.8" stroke-linecap="butt"/>
<line x1="1149.4" y1="783.07" x2="1152.4" y2="783.07" stroke="#000" stroke-width="1.8" stroke-linecap="butt"/>
<line x1="1149.4" y1="778.67" x2="1152.4" y2="778.67" stroke="#000" stroke-width="1.8" stroke-linecap="butt"/>
<line x1="1149.4" y1="774.79" x2="1152.4" y2="774.79" stroke="#000" stroke-width="1.8" stroke-linecap="butt"/>
<line x1="1149.4" y1="771.32" x2="1155.4" y2="771.32" stroke="#000" stroke-width="2.2" stroke-linecap="butt"/>
<line x1="1149.4" y1="748.49" x2="1152.4" y2="748.49" stroke="#000" stroke-width="1.8" stroke-linecap="butt"/>
<line x1="1149.4" y1="735.14" x2="1152.4" y2="735.14" stroke="#000" stroke-width="1.8" stroke-linecap="butt"/>
<line x1="1149.4" y1="725.66" x2="1152.4" y2="725.66" stroke="#000" stroke-width="1.8" stroke-linecap="butt"/>
<line x1="1149.4" y1="718.31" x2="1152.4" y2="718.31" stroke="#000" stroke-width="1.8" stroke-linecap="butt"/>
<line x1="1149.4" y1="712.31" x2="1152.4" y2="712.31" stroke="#000" stroke-width="1.8" stroke-linecap="butt"/>
<line x1="1149.4" y1="707.23" x2="1152.4" y2="707.23" stroke="#000" stroke-width="1.8" stroke-linecap="butt"/>
<line x1="1149.4" y1="702.83" x2="1152.4" y2="702.83" stroke="#000" stroke-width="1.8" stroke-linecap="butt"/>
<line x1="1149.4" y1="698.95" x2="1152.4" y2="698.95" stroke="#000" stroke-width="1.8" stroke-linecap="butt"/>
<line x1="1149.4" y1="695.48" x2="1155.4" y2="695.48" stroke="#000" stroke-width="2.2" stroke-linecap="butt"/>
<line x1="1149.4" y1="672.65" x2="1152.4" y2="672.65" stroke="#000" stroke-width="1.8" stroke-linecap="butt"/>
<line x1="1149.4" y1="659.3" x2="1152.4" y2="659.3" stroke="#000" stroke-width="1.8" stroke-linecap="butt"/>
<line x1="1149.4" y1="649.82" x2="1152.4" y2="649.82" stroke="#000" stroke-width="1.8" stroke-linecap="butt"/>
<line x1="1149.4" y1="642.47" x2="1152.4" y2="642.47" stroke="#000" stroke-width="1.8" stroke-linecap="butt"/>
<line x1="1149.4" y1="636.47" x2="1152.4" y2="636.47" stroke="#000" stroke-width="1.8" stroke-linecap="butt"/>
<line x1="1149.4" y1="631.39" x2="1152.4" y2="631.39" stroke="#000" stroke-width="1.8" stroke-linecap="butt"/>
<line x1="1149.4" y1="626.99" x2="1152.4" y2="626.99" stroke="#000" stroke-width="1.8" stroke-linecap="butt"/>
<line x1="1149.4" y1="623.11" x2="1152.4" y2="623.11" stroke="#000" stroke-width="1.8" stroke-linecap="butt"/>
<line x1="1149.4" y1="619.64" x2="1155.4" y2="619.64" stroke="#000" stroke-width="2.2" stroke-linecap="butt"/>
<line x1="1149.4" y1="596.81" x2="1152.4" y2="596.81" stroke="#000" stroke-width="1.8" stroke-linecap="butt"/>
<line x1="1149.4" y1="583.46" x2="1152.4" y2="583.46" stroke="#000" stroke-width="1.8" stroke-linecap="butt"/>
<line x1="1149.4" y1="573.98" x2="1152.4" y2="573.98" stroke="#000" stroke-width="1.8" stroke-linecap="butt"/>
<line x1="1149.4" y1="566.63" x2="1152.4" y2="566.63" stroke="#000" stroke-width="1.8" stroke-linecap="butt"/>
<line x1="1149.4" y1="560.63" x2="1152.4" y2="560.63" stroke="#000" stroke-width="1.8" stroke-linecap="butt"/>
<line x1="1149.4" y1="555.55" x2="1152.4" y2="555.55" stroke="#000" stroke-width="1.8" stroke-linecap="butt"/>
<line x1="1149.4" y1="551.15" x2="1152.4" y2="551.15" stroke="#000" stroke-width="1.8" stroke-linecap="butt"/>
<line x1="1149.4" y1="547.27" x2="1152.4" y2="547.27" stroke="#000" stroke-width="1.8" stroke-linecap="butt"/>
<line x1="1149.4" y1="543.8" x2="1155.4" y2="543.8" stroke="#000" stroke-width="2.2" stroke-linecap="butt"/>
<text transform="translate(1096.58 934.69) scale(0.9241 1)" font-size="31.27" fill="#000">10</text>
<text x="1130.02" y="921.75" font-size="19.50">0</text>
<text transform="translate(1096.58 858.85) scale(0.9241 1)" font-size="31.27" fill="#000">10</text>
<text x="1129.34" y="845.91" font-size="19.50">1</text>
<text transform="translate(1096.58 783.01) scale(0.9241 1)" font-size="31.27" fill="#000">10</text>
<text x="1129.83" y="770.07" font-size="19.50">2</text>
<text transform="translate(1096.58 707.17) scale(0.9241 1)" font-size="31.27" fill="#000">10</text>
<text x="1130.02" y="694.23" font-size="19.50">3</text>
<text transform="translate(1096.58 631.33) scale(0.9241 1)" font-size="31.27" fill="#000">10</text>
<text x="1130.31" y="618.39" font-size="19.50">4</text>
<text transform="translate(1096.58 555.49) scale(0.9241 1)" font-size="31.27" fill="#000">10</text>
<text x="1130.02" y="542.55" font-size="19.50">5</text>
<text transform="translate(1078.83 839.7) rotate(-90) scale(0.9805 1)" font-size="31.76">Selectivity</text>
<text transform="translate(1078.9 689.37) rotate(-90) scale(0.9886 1)" font-size="32.75" font-style="italic">P</text>
<text transform="translate(1066.9 661.22) rotate(-90) scale(1.0971 1)" font-size="20.69">Li</text>
<text transform="translate(1057.57 643.68) rotate(-90) scale(0.9664 1)" font-size="14.08">+</text>
<text transform="translate(1088 661.14) rotate(-90) scale(1.0091 1)" font-size="21.59">M</text>
<text transform="translate(1078.9 642.85) rotate(-90) scale(1.0231 1)" font-size="14.26">n</text>
<text transform="translate(1078.39 633.7) rotate(-90) scale(0.8371 1)" font-size="14.29">+</text>
<rect x="1155" y="552.9" width="41.8" height="20.3" fill="#EE7676" />
<rect x="1155" y="576.1" width="41.8" height="20.9" fill="#7AADD2" />
<text transform="translate(1202.64 569.76) scale(1.0468 1)" font-size="18.29" fill="#000">Synthetic geothermal brine A</text>
<text transform="translate(1202.64 592.8) scale(1.0588 1)" font-size="18.07" fill="#000">Synthetic geothermal brine B</text>
<text transform="translate(1187.58 956) scale(1.0919 1)" font-size="24.28" fill="#000">Li</text>
<text transform="translate(1207.31 946.18) scale(0.9046 1)" font-size="17.55" fill="#000">+</text>
<text transform="translate(1217.2 956.06) scale(1.0153 1)" font-size="24.35" fill="#000">/</text>
<text transform="translate(1223.22 956.04) scale(0.9196 1)" font-size="25.57" fill="#000">Na</text>
<text transform="translate(1255.08 946.18) scale(0.9398 1)" font-size="17.55" fill="#000">+</text>
<text transform="translate(1303.4 958.6) scale(1.1104 1)" font-size="23.59" fill="#000">Li</text>
<text transform="translate(1322.74 949.16) scale(0.9865 1)" font-size="17.35" fill="#000">+</text>
<text transform="translate(1333 958.66) scale(1.0752 1)" font-size="23.67" fill="#000">/</text>
<text transform="translate(1340.05 958.65) scale(0.9360 1)" font-size="24.51" fill="#000">Ca</text>
<text transform="translate(1370.1 948.7) scale(1.0875 1)" font-size="16.57" fill="#000">2</text>
<text transform="translate(1379.44 949.16) scale(0.9865 1)" font-size="17.35" fill="#000">+</text>
<text transform="translate(1428.54 956.8) scale(1.0533 1)" font-size="24.41" fill="#000">Li</text>
<text transform="translate(1448.32 946.18) scale(1.0238 1)" font-size="15.31" fill="#000">+</text>
<text transform="translate(1457.9 956.86) scale(1.0097 1)" font-size="24.49" fill="#000">/</text>
<text transform="translate(1464.64 956.8) scale(0.9559 1)" font-size="25.65" fill="#000">K</text>
<text transform="translate(1481.06 946.18) scale(1.0911 1)" font-size="15.31" fill="#000">+</text>
<defs>
<linearGradient id="wallH" x1="1591" y1="0" x2="1999" y2="0" gradientUnits="userSpaceOnUse">
 <stop offset="0" stop-color="#D4D0C6"/><stop offset="0.27" stop-color="#C9C5BB"/><stop offset="0.5" stop-color="#C6C2B9"/><stop offset="0.73" stop-color="#C6C1BA"/><stop offset="1" stop-color="#C6C6BE"/></linearGradient>
<radialGradient id="wallV" cx="1591" cy="402" r="260" gradientUnits="userSpaceOnUse">
 <stop offset="0" stop-color="#FFF8EC" stop-opacity="0.34"/><stop offset="0.5" stop-color="#FFF8EC" stop-opacity="0.15"/><stop offset="1" stop-color="#FFF8EC" stop-opacity="0"/></radialGradient>
<linearGradient id="panelR" x1="0" y1="430" x2="0" y2="572" gradientUnits="userSpaceOnUse">
 <stop offset="0" stop-color="#1A1408" stop-opacity="0"/><stop offset="1" stop-color="#1A1408" stop-opacity="0.16"/></linearGradient>
<linearGradient id="panelH" x1="1591" y1="0" x2="1999" y2="0" gradientUnits="userSpaceOnUse">
 <stop offset="0" stop-color="#B8B1A6"/><stop offset="0.5" stop-color="#A8A194"/><stop offset="1" stop-color="#989284"/></linearGradient>
<linearGradient id="panelV" x1="0" y1="409" x2="0" y2="572" gradientUnits="userSpaceOnUse">
 <stop offset="0" stop-color="#000" stop-opacity="0"/><stop offset="1" stop-color="#1A1408" stop-opacity="0.24"/></linearGradient>
<linearGradient id="stripH" x1="1591" y1="0" x2="1999" y2="0" gradientUnits="userSpaceOnUse">
 <stop offset="0" stop-color="#8A8377"/><stop offset="1" stop-color="#766A58"/></linearGradient>
<linearGradient id="counterH" x1="1591" y1="0" x2="1999" y2="0" gradientUnits="userSpaceOnUse">
 <stop offset="0" stop-color="#524A40"/><stop offset="0.3" stop-color="#4A443B"/><stop offset="0.75" stop-color="#3A362F"/><stop offset="1" stop-color="#322E28"/></linearGradient>
<linearGradient id="liqV" x1="0" y1="357" x2="0" y2="805" gradientUnits="userSpaceOnUse">
 <stop offset="0" stop-color="#A88A20"/><stop offset="0.05" stop-color="#A8840E"/><stop offset="0.14" stop-color="#A67E04"/>
 <stop offset="0.25" stop-color="#BA8C02"/><stop offset="0.45" stop-color="#BA8904"/><stop offset="0.65" stop-color="#B38008"/>
 <stop offset="0.78" stop-color="#B48106"/><stop offset="0.84" stop-color="#D29C01"/><stop offset="0.9" stop-color="#DBA400"/>
 <stop offset="0.975" stop-color="#D8A200"/><stop offset="1" stop-color="#E0AC08"/></linearGradient>
<linearGradient id="liqH" x1="1672" y1="0" x2="1928" y2="0" gradientUnits="userSpaceOnUse">
 <stop offset="0" stop-color="#D0B030" stop-opacity="0.25"/><stop offset="0.15" stop-color="#000" stop-opacity="0.04"/><stop offset="0.5" stop-color="#000" stop-opacity="0"/>
 <stop offset="0.85" stop-color="#E8B000" stop-opacity="0.08"/><stop offset="1" stop-color="#E8B000" stop-opacity="0.2"/></linearGradient>
<linearGradient id="glassH" x1="1675" y1="0" x2="1925" y2="0" gradientUnits="userSpaceOnUse">
 <stop offset="0" stop-color="#B0AA9C"/><stop offset="0.12" stop-color="#C6C0B2"/><stop offset="0.35" stop-color="#C6C0B2"/><stop offset="0.45" stop-color="#D0CBBE"/><stop offset="0.55" stop-color="#C0BAAC"/><stop offset="0.88" stop-color="#C0B9AC"/><stop offset="1" stop-color="#A8A294"/></linearGradient>
<radialGradient id="shadow" cx="1808" cy="812" r="110" gradientUnits="userSpaceOnUse" gradientTransform="translate(1808 812) scale(1 0.4) translate(-1808 -812)">
 <stop offset="0" stop-color="#3A2404" stop-opacity="1"/><stop offset="0.75" stop-color="#3A2404" stop-opacity="0.85"/><stop offset="1" stop-color="#3A2404" stop-opacity="0"/></radialGradient>
<clipPath id="photoclip"><rect x="1591" y="134.4" width="408" height="694.1"/></clipPath>
</defs>
<g clip-path="url(#photoclip)">
<rect x="1591" y="134" width="408" height="272" fill="url(#wallH)"/>
<rect x="1591" y="134" width="408" height="272" fill="url(#wallV)"/>
<polygon points="1591,402 1999,394 1999,401 1591,409.5" fill="#D2CEC6"/>
<polygon points="1591,408.5 1999,400 1999,568 1591,573.5" fill="url(#panelH)"/>
<polygon points="1591,409.5 1999,401 1999,567 1591,572.5" fill="url(#panelV)"/>
<rect x="1905" y="430" width="94" height="138" fill="url(#panelR)"/>
<polygon points="1591,572 1999,566.5 1999,613 1591,620.5" fill="url(#stripH)"/>
<polygon points="1591,572 1999,566.5 1999,575 1591,580" fill="#5A4E38" opacity="0.3"/>
<polygon points="1591,619.5 1999,611.5 1999,829 1591,829" fill="url(#counterH)"/>
<filter id="sblur" x="-0.2" y="-0.2" width="1.4" height="1.4"><feGaussianBlur stdDeviation="6"/></filter>
<polygon points="1690,730 1706,835 1916,835 1917,730" fill="#33200A" filter="url(#sblur)"/>
<path d="M1737,274 L1852,274 C1862,300 1880,335 1900,370 C1912,390 1920,402 1924,412 L1674,412 C1680,395 1690,372 1703,348 C1716,325 1728,300 1737,277 Z" fill="url(#glassH)"/>
<path d="M1770,280 L1790,280 L1796,356 L1768,356 Z" fill="#D8D4C8" opacity="0.6"/>
<path d="M1737,277 C1728,300 1716,325 1703,348 C1690,372 1680,395 1674,412" fill="none" stroke="#9A9486" stroke-width="2"/>
<path d="M1852,277 C1862,300 1880,335 1900,370 C1912,390 1920,402 1924,412" fill="none" stroke="#9A9486" stroke-width="2"/>
<rect x="1736" y="182" width="114" height="70" rx="6" fill="#D4D1C8"/>
<rect x="1775" y="186" width="60" height="62" fill="#E2E0DA" opacity="0.6"/>
<path d="M1737,192 Q1793,197 1849,192" fill="none" stroke="#B4AE9C" stroke-width="1.3"/>
<path d="M1739,195 Q1793,200 1847,195" fill="none" stroke="#ECEBE6" stroke-width="1.6" opacity="0.8"/>
<path d="M1737,203 Q1793,208 1849,203" fill="none" stroke="#B4AE9C" stroke-width="1.3"/>
<path d="M1739,206 Q1793,211 1847,206" fill="none" stroke="#ECEBE6" stroke-width="1.6" opacity="0.8"/>
<path d="M1737,214 Q1793,219 1849,214" fill="none" stroke="#B4AE9C" stroke-width="1.3"/>
<path d="M1739,217 Q1793,222 1847,217" fill="none" stroke="#ECEBE6" stroke-width="1.6" opacity="0.8"/>
<path d="M1737,225 Q1793,230 1849,225" fill="none" stroke="#B4AE9C" stroke-width="1.3"/>
<path d="M1739,228 Q1793,233 1847,228" fill="none" stroke="#ECEBE6" stroke-width="1.6" opacity="0.8"/>
<path d="M1737,236 Q1793,241 1849,236" fill="none" stroke="#B4AE9C" stroke-width="1.3"/>
<path d="M1739,239 Q1793,244 1847,239" fill="none" stroke="#ECEBE6" stroke-width="1.6" opacity="0.8"/>
<path d="M1737,249 Q1793,244 1849,249" fill="none" stroke="#A89870" stroke-width="2"/>
<ellipse cx="1793" cy="184" rx="55" ry="5" fill="#DCDAD2" stroke="#B0A890" stroke-width="1.5"/>
<rect x="1730" y="251" width="129" height="23" rx="9" fill="#D4D1C8" stroke="#A89A78" stroke-width="1.8"/>
<path d="M1740,258 Q1795,254 1850,258" fill="none" stroke="#ECEBE6" stroke-width="2" opacity="0.8"/>
<path d="M1697,357 L1895,357 C1906,376 1918,395 1926,412 L1922,730 C1921,748 1912,764 1895,775 C1880,786 1845,800 1800,803.5 C1762,803.5 1735,790 1715,773 C1700,760 1690,742 1688,719 C1686,690 1684,620 1676,500 L1672,412 C1680,393 1688,374 1697,357 Z" fill="url(#liqV)"/>
<path d="M1697,357 L1895,357 C1906,376 1918,395 1926,412 L1922,730 C1921,748 1912,764 1895,775 C1880,786 1845,800 1800,803.5 C1762,803.5 1735,790 1715,773 C1700,760 1690,742 1688,719 C1686,690 1684,620 1676,500 L1672,412 C1680,393 1688,374 1697,357 Z" fill="url(#liqH)"/>
<g fill="#E8DC98" opacity="0.7"><rect x="1713" y="389" width="10" height="8" rx="3"/><rect x="1757" y="389" width="8" height="8" rx="3"/><rect x="1768" y="389" width="18" height="7" rx="3"/><rect x="1800" y="389" width="20" height="6" rx="2"/><rect x="1822" y="389" width="22" height="6" rx="2"/><rect x="1753" y="422" width="30" height="5" rx="2"/><rect x="1802" y="422" width="45" height="5" rx="2"/><polygon points="1745,385 1785,372 1786,380 1750,388"/></g>
<path d="M1898,768 C1880,781 1845,794 1800,797 C1762,797 1738,786 1719,768" fill="none" stroke="#A06A00" stroke-width="1.2" opacity="0.7"/>
<path d="M1895,775 C1880,786 1845,800 1800,803.5 C1762,803.5 1735,790 1715,773" fill="none" stroke="#F0BC10" stroke-width="3" opacity="0.9"/>
<polygon points="1677,555 1689,560 1692,622 1680,618" fill="#E8E4D8"/>
</g>
<text transform="translate(1623.28 196.71) scale(1.0924 1)" font-size="39.46" fill="#000">g</text>
</svg></body></html>
